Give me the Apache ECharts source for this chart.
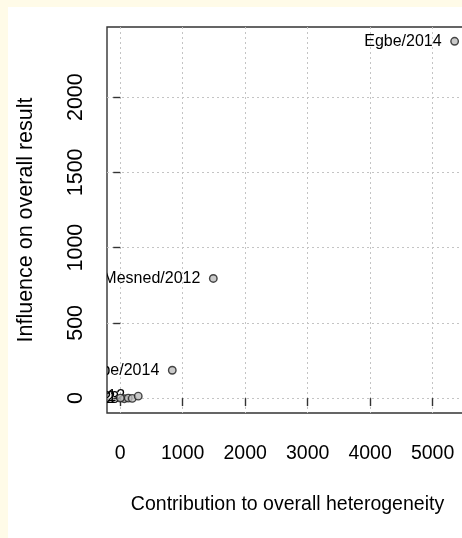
<!DOCTYPE html>
<html>
<head>
<meta charset="utf-8">
<script src="https://cdn.jsdelivr.net/npm/echarts@6/dist/echarts.min.js"></script>
<style>
  html, body { margin: 0; padding: 0; background: #fffbe8; }
  #chart { width: 462px; height: 538px; }
</style>
</head>
<body>
<div id="chart"></div>
<script>
// Baujat plot: each study's contribution to heterogeneity vs. influence on the pooled result
const studies = ['Egbe/2014', 'Mesned/2012', 'Abebe/2014', 'Ameh/2012', 'Sani/2012', 'Musa/2013', 'Okoro/2012', 'Bello/2012'];
const heterogeneity = [5353, 1490, 833, 64, 128, 192, 288, 2];
const influence = [2371, 795, 185, -4, 0, -2, 13, 0];
const xTicks = [0, 1000, 2000, 3000, 4000, 5000];
const yTicks = [0, 500, 1000, 1500, 2000];

// axis limits: data range padded by 4% on each side
const xPad = 0.04 * (Math.max(...heterogeneity) - Math.min(...heterogeneity));
const yPad = 0.04 * (Math.max(...influence) - Math.min(...influence));
const xMin = Math.min(...heterogeneity) - xPad;
const xMax = Math.max(...heterogeneity) + xPad;
const yMin = Math.min(...influence) - yPad;
const yMax = Math.max(...influence) + yPad;

const font = 'Liberation Sans, Arial, sans-serif';
const points = studies.map((s, i) => ({ name: s, value: [heterogeneity[i], influence[i]] }));

const chart = echarts.init(document.getElementById('chart'));
chart.setOption({
  backgroundColor: '#ffffff',
  animation: false,
  graphic: [
    { type: 'rect', left: 0, top: 0, shape: { width: 462, height: 7 }, style: { fill: '#fffbe8' }, silent: true },
    { type: 'rect', left: 0, top: 0, shape: { width: 8, height: 538 }, style: { fill: '#fffbe8' }, silent: true }
  ],
  grid: {
    left: 107, top: 27, width: 361, height: 386,
    outerBoundsMode: 'none',
    show: true, borderColor: '#333', borderWidth: 1.4, backgroundColor: 'transparent'
  },
  xAxis: {
    type: 'value', min: xMin, max: xMax,
    name: 'Contribution to overall heterogeneity',
    nameLocation: 'middle', nameGap: 82,
    nameTextStyle: { color: '#000', fontSize: 19.5, fontFamily: font },
    axisLine: { show: false },
    axisTick: { show: true, length: 8, customValues: xTicks, lineStyle: { color: '#333', width: 1.4 } },
    axisLabel: { customValues: xTicks, formatter: v => String(v), color: '#000', fontSize: 19.5, fontFamily: font, margin: 31 },
    splitLine: { show: true, lineStyle: { color: '#c4c4c4', width: 1, type: [2, 3] } }
  },
  yAxis: {
    type: 'value', min: yMin, max: yMax,
    name: 'Influence on overall result',
    nameLocation: 'middle', nameGap: 70, nameRotate: 90,
    nameTextStyle: { color: '#000', fontSize: 21.5, fontFamily: font },
    axisLine: { show: false },
    axisTick: { show: true, length: 7, customValues: yTicks, lineStyle: { color: '#333', width: 1.4 } },
    axisLabel: { customValues: yTicks, formatter: v => String(v), rotate: 90, color: '#000', fontSize: 21.5, fontFamily: font, margin: 20 },
    splitLine: { show: true, lineStyle: { color: '#c4c4c4', width: 1, type: [2, 3] } }
  },
  series: [
    {
      type: 'scatter',
      data: points,
      clip: true,
      symbol: 'circle',
      symbolSize: 7.5,
      itemStyle: { color: '#bdbdbd', borderColor: '#1a1a1a', borderWidth: 1.4 },
      z: 3
    },
    {
      // study names to the left of each point, clipped to the plotting region
      type: 'custom',
      clip: true,
      data: points,
      z: 2,
      renderItem: (params, api) => {
        const p = api.coord([api.value(0), api.value(1)]);
        return {
          type: 'text',
          x: p[0] - 13,
          y: p[1],
          style: {
            text: studies[params.dataIndex],
            align: 'right', verticalAlign: 'middle',
            fill: '#000', font: '16px ' + font
          }
        };
      }
    }
  ]
});
</script>
</body>
</html>
